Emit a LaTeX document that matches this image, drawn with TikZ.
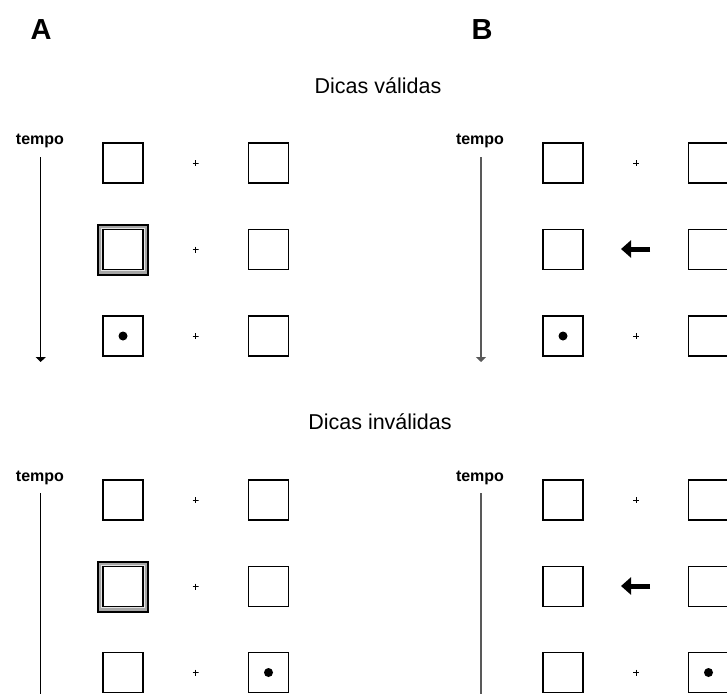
\documentclass[tikz,border=0pt]{standalone}
\usepackage{fontspec}
\setmainfont{Liberation Sans}
\usetikzlibrary{arrows.meta}
\begin{document}
\begin{tikzpicture}[x=1pt,y=-1pt,
  sq/.style={draw=black, line width=1.7pt, minimum size=40pt, inner sep=0pt, fill=white},
  cueout/.style={draw=black, line width=2pt, minimum size=50pt, inner sep=0pt, fill=gray!70},
  cuering/.style={draw=gray!20, line width=1pt, minimum size=42.5pt, inner sep=0pt},
  fix/.style={inner sep=0pt, minimum size=6pt,
    path picture={\draw[line width=0.9pt] (path picture bounding box.north) -- (path picture bounding box.south)
      (path picture bounding box.west) -- (path picture bounding box.east);}},
  dot/.style={circle, fill=black, inner sep=0pt, minimum size=9pt},
  tempolbl/.style={font=\fontsize{16}{18}\selectfont\bfseries, inner sep=0pt},
  heading/.style={font=\fontsize{21.5}{26}\selectfont, inner sep=0pt},
  panellbl/.style={font=\fontsize{29}{32}\selectfont\bfseries, inner sep=0pt},
  tlineA/.style={draw=black, line width=1.5pt},
  tlineB/.style={draw=black!65, line width=2pt},
  tarrow/.style={-{Triangle[length=5pt,width=10pt]}},
  cuearrow/.style={line width=5pt, -{Triangle[length=10pt,width=17pt]}}
]
\useasboundingbox (0,0) rectangle (727,693);
\clip (0,0) rectangle (727,693);

% panel labels and headings
\node[panellbl] (labA) at (41,30) {A};
\node[panellbl] (labB) at (482,30) {B};
\node[heading] (hval) at (378,86) {Dicas válidas};
\node[heading] (hinv) at (380,422) {Dicas inválidas};

% ===== Panel A top =====
\node[tempolbl] (tA1) at (40,141) {tempo};
\coordinate (tA1s) at (40.7,157);
\coordinate (tA1e) at (40.7,362);
\draw[tlineA, tarrow] (tA1s) -- (tA1e);
\node[sq] (A1l1) at (123,163) {};
\node[fix] (A1c1) at (195.5,163) {};
\node[sq] (A1r1) at (268.5,163) {};
\node[cueout] (A1l2o) at (123,249.5) {};
\node[cuering] (A1l2r) at (123,249.5) {};
\node[sq] (A1l2) at (123,249.5) {};
\node[fix] (A1c2) at (195.5,249.5) {};
\node[sq] (A1r2) at (268.5,249.5) {};
\node[sq] (A1l3) at (123,336) {};
\node[dot] (A1d) at (A1l3) {};
\node[fix] (A1c3) at (195.5,336) {};
\node[sq] (A1r3) at (268.5,336) {};

% ===== Panel B top =====
\node[tempolbl] (tB1) at (480,141) {tempo};
\coordinate (tB1s) at (481,157);
\coordinate (tB1e) at (481,362);
\draw[tlineB, tarrow] (tB1s) -- (tB1e);
\node[sq] (B1l1) at (563,163) {};
\node[fix] (B1c1) at (636,163) {};
\node[sq] (B1r1) at (708.5,163) {};
\node[sq] (B1l2) at (563,249.5) {};
\coordinate (B1as) at (650,249);
\coordinate (B1ae) at (621,249);
\draw[cuearrow] (B1as) -- (B1ae);
\node[sq] (B1r2) at (708.5,249.5) {};
\node[sq] (B1l3) at (563,336) {};
\node[dot] (B1d) at (B1l3) {};
\node[fix] (B1c3) at (636,336) {};
\node[sq] (B1r3) at (708.5,336) {};

% ===== Panel A bottom =====
\node[tempolbl] (tA2) at (40,478) {tempo};
\coordinate (tA2s) at (40.7,493);
\coordinate (tA2e) at (40.7,700);
\draw[tlineA] (tA2s) -- (tA2e);
\node[sq] (A2l1) at (123,500) {};
\node[fix] (A2c1) at (195.5,500) {};
\node[sq] (A2r1) at (268.5,500) {};
\node[cueout] (A2l2o) at (123,586.5) {};
\node[cuering] (A2l2r) at (123,586.5) {};
\node[sq] (A2l2) at (123,586.5) {};
\node[fix] (A2c2) at (195.5,586.5) {};
\node[sq] (A2r2) at (268.5,586.5) {};
\node[sq] (A2l3) at (123,672.5) {};
\node[fix] (A2c3) at (195.5,672.5) {};
\node[sq] (A2r3) at (268.5,672.5) {};
\node[dot] (A2d) at (A2r3) {};

% ===== Panel B bottom =====
\node[tempolbl] (tB2) at (480,478) {tempo};
\coordinate (tB2s) at (481,493);
\coordinate (tB2e) at (481,700);
\draw[tlineB] (tB2s) -- (tB2e);
\node[sq] (B2l1) at (563,500) {};
\node[fix] (B2c1) at (636,500) {};
\node[sq] (B2r1) at (708.5,500) {};
\node[sq] (B2l2) at (563,586.5) {};
\coordinate (B2as) at (650,586);
\coordinate (B2ae) at (621,586);
\draw[cuearrow] (B2as) -- (B2ae);
\node[sq] (B2r2) at (708.5,586.5) {};
\node[sq] (B2l3) at (563,672.5) {};
\node[fix] (B2c3) at (636,672.5) {};
\node[sq] (B2r3) at (708.5,672.5) {};
\node[dot] (B2d) at (B2r3) {};
\end{tikzpicture}
\end{document}
